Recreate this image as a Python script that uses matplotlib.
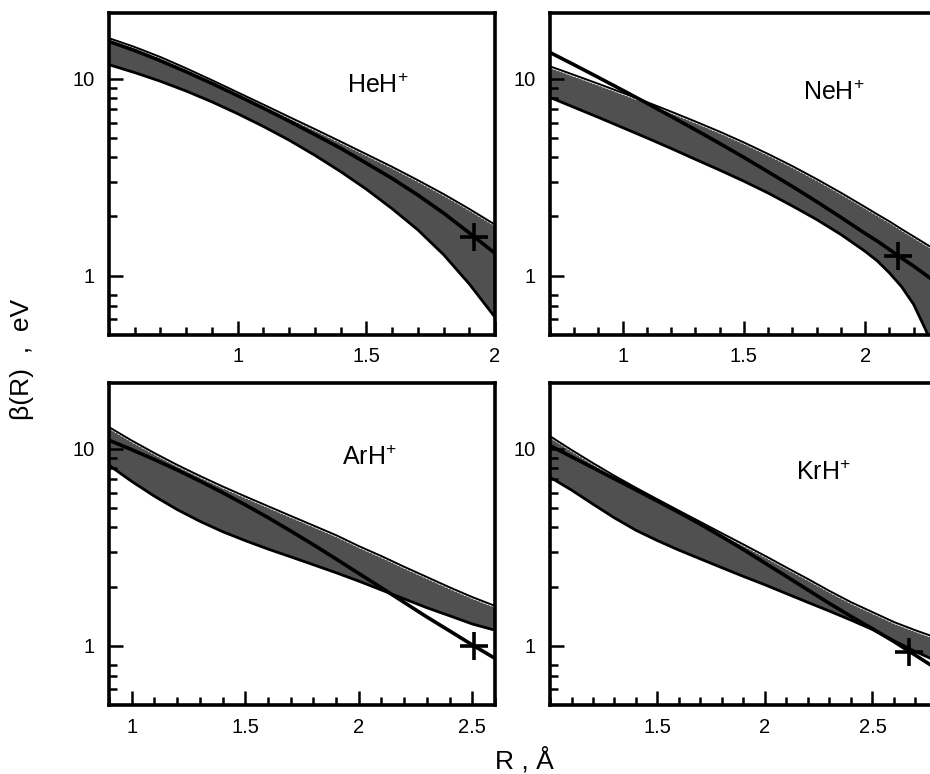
import matplotlib.pyplot as plt
import matplotlib.transforms as mtransforms
from matplotlib.ticker import MultipleLocator, NullFormatter

plt.rcParams['font.family'] = ['Liberation Sans', 'DejaVu Sans']
plt.rcParams['mathtext.fontset'] = 'custom'
plt.rcParams['mathtext.rm'] = 'Liberation Sans'
plt.rcParams['mathtext.default'] = 'regular'

# HeH+
r_heh = [0.5, 0.6, 0.7, 0.8, 0.9, 1.0, 1.1, 1.2, 1.3, 1.4, 1.5, 1.6, 1.7, 1.8, 1.9, 2.0]
up_heh = [15.85, 14.29, 12.71, 11.14, 9.70, 8.41, 7.29, 6.31, 5.47, 4.73, 4.08, 3.52, 3.01, 2.56, 2.15, 1.79]
low_heh = [11.80, 10.76, 9.72, 8.67, 7.64, 6.65, 5.73, 4.88, 4.09, 3.38, 2.75, 2.19, 1.71, 1.28, 0.908, 0.615]
fit_heh = [15.49, 13.93, 12.36, 10.86, 9.48, 8.22, 7.10, 6.10, 5.21, 4.44, 3.73, 3.12, 2.57, 2.08, 1.65, 1.30]
mark_heh = (1.917, 1.58)

# NeH+
r_neh = [0.7, 0.8, 0.9, 1.0, 1.1, 1.2, 1.3, 1.4, 1.5, 1.6, 1.7, 1.8, 1.9, 2.0, 2.05, 2.1, 2.15, 2.2, 2.25, 2.3]
up_neh = [11.40, 10.30, 9.29, 8.36, 7.50, 6.71, 5.98, 5.31, 4.68, 4.09, 3.55, 3.05, 2.60, 2.20, 2.02, 1.86, 1.70, 1.56, 1.43, 1.31]
low_neh = [8.05, 7.16, 6.37, 5.65, 5.01, 4.43, 3.90, 3.44, 3.02, 2.63, 2.26, 1.93, 1.62, 1.33, 1.19, 1.035, 0.881, 0.716, 0.531, 0.380]
fit_neh = [13.61, 11.78, 10.16, 8.75, 7.52, 6.44, 5.51, 4.70, 3.99, 3.37, 2.84, 2.38, 1.98, 1.64, 1.50, 1.36, 1.23, 1.12, 1.01, 0.91]
mark_neh = (2.135, 1.26)

# ArH+
r_arh = [0.9, 1.0, 1.1, 1.2, 1.3, 1.4, 1.5, 1.6, 1.7, 1.8, 1.9, 2.0, 2.1, 2.2, 2.3, 2.4, 2.5, 2.6]
up_arh = [12.71, 10.86, 9.38, 8.17, 7.18, 6.35, 5.65, 5.04, 4.50, 4.02, 3.59, 3.16, 2.81, 2.48, 2.20, 1.95, 1.74, 1.57]
low_arh = [8.26, 6.84, 5.75, 4.92, 4.29, 3.80, 3.42, 3.10, 2.83, 2.58, 2.35, 2.13, 1.92, 1.73, 1.56, 1.42, 1.29, 1.20]
fit_arh = [11.07, 9.91, 8.83, 7.82, 6.87, 6.00, 5.20, 4.48, 3.83, 3.26, 2.76, 2.33, 1.97, 1.66, 1.40, 1.19, 1.01, 0.863]
mark_arh = (2.508, 1.0)

# KrH+
r_krh = [1.0, 1.1, 1.2, 1.3, 1.4, 1.5, 1.6, 1.7, 1.8, 1.9, 2.0, 2.1, 2.2, 2.3, 2.4, 2.5, 2.6, 2.7, 2.8]
up_krh = [11.43, 9.73, 8.34, 7.19, 6.25, 5.46, 4.78, 4.19, 3.67, 3.22, 2.82, 2.46, 2.15, 1.87, 1.64, 1.46, 1.30, 1.18, 1.08]
low_krh = [7.18, 6.18, 5.24, 4.46, 3.86, 3.42, 3.06, 2.76, 2.49, 2.25, 2.04, 1.84, 1.66, 1.50, 1.35, 1.21, 1.06, 0.935, 0.834]
fit_krh = [10.40, 9.12, 8.02, 7.05, 6.19, 5.43, 4.75, 4.14, 3.58, 3.08, 2.63, 2.25, 1.92, 1.64, 1.41, 1.22, 1.05, 0.895, 0.762]
mark_krh = (2.668, 0.93)

labels = ['HeH$^{+}$', 'NeH$^{+}$', 'ArH$^{+}$', 'KrH$^{+}$']
y_lim = (0.5, 21.6)

fig = plt.figure(figsize=(9.3, 7.74), dpi=100)

panels = [
    (r_heh, up_heh, low_heh, fit_heh, mark_heh, [0.1172, 0.5672, 0.4151, 0.4160], (0.5, 2.0), [1, 1.5, 2], (0.616, 0.752)),
    (r_neh, up_neh, low_neh, fit_neh, mark_neh, [0.5914, 0.5672, 0.4170, 0.4160], (0.7, 2.3), [1, 1.5, 2], (0.652, 0.730)),
    (r_arh, up_arh, low_arh, fit_arh, mark_arh, [0.1172, 0.0891, 0.4151, 0.4160], (0.9, 2.6), [1, 1.5, 2, 2.5], (0.603, 0.745)),
    (r_krh, up_krh, low_krh, fit_krh, mark_krh, [0.5914, 0.0891, 0.4161, 0.4160], (1.0, 2.8), [1.5, 2, 2.5], (0.635, 0.699)),
]

for (r, up, low, fit, mark, rect, xlim, xt, lpos), lab in zip(panels, labels):
    ax = fig.add_axes(rect)
    ax.set_yscale('log')
    ax.fill_between(r, low, up, color='#505050', lw=0, zorder=1)
    # upper edge: white dots under a thin black line
    ax.plot(r, up, color='white', lw=1.0, ls=(0, (1, 1.5)), zorder=2)
    shifted = mtransforms.offset_copy(ax.transData, fig=fig, x=0, y=1.3, units='dots')
    ax.plot(r, up, color='black', lw=1.4, transform=shifted, zorder=3)
    ax.plot(r, low, color='black', lw=2.0, zorder=3)
    ax.plot(r, fit, color='black', lw=2.6, zorder=4)
    ax.plot(mark[0], mark[1], marker='+', ms=20, mew=2.6, color='black', zorder=5)

    ax.set_xlim(xlim)
    ax.set_ylim(y_lim)
    ax.set_xticks(xt)
    ax.set_xticklabels([('%g' % v) for v in xt])
    ax.xaxis.set_minor_locator(MultipleLocator(0.1))
    ax.set_yticks([1, 10])
    ax.set_yticklabels(['1', '10'])
    ax.set_yticks([0.6, 0.7, 0.8, 2, 3, 4, 5, 6, 7, 8, 9], minor=True)
    ax.yaxis.set_minor_formatter(NullFormatter())

    ax.tick_params(which='both', direction='in', top=False, right=False, width=1.8, labelsize=14.5)
    ax.tick_params(which='major', length=10)
    ax.tick_params(which='minor', length=5.5)
    ax.tick_params(axis='x', pad=9)
    ax.tick_params(axis='y', pad=10)
    for s in ax.spines.values():
        s.set_linewidth(2.6)

    ax.text(lpos[0], lpos[1], lab, transform=ax.transAxes, ha='left', va='baseline', fontsize=18)

fig.text(0.024, 1 - 359 / 774, 'β(R)  ,  eV', rotation=90, ha='center', va='center', fontsize=19)
fig.text(524 / 930, 1 - 769 / 774, 'R , Å', ha='center', va='baseline', fontsize=19)

plt.savefig('out.png', dpi=100)
